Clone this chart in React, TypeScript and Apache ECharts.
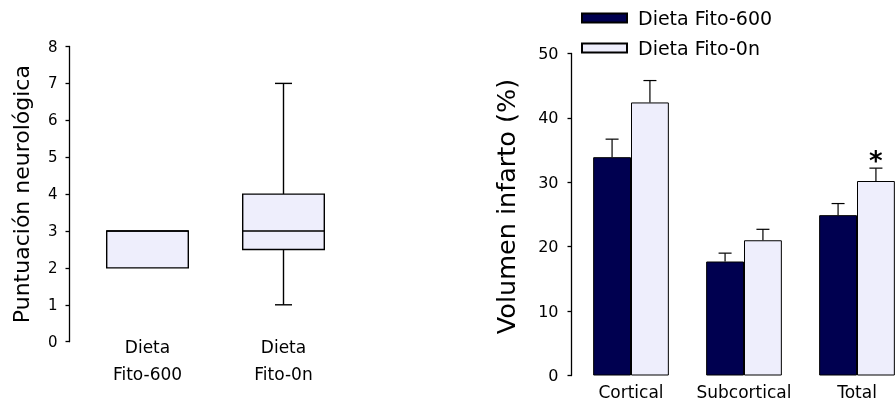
import React, { useEffect, useRef } from "react";
import * as echarts from "echarts";

// ---- Left chart: neurological score box plot ----
const boxCategories = ["Dieta\nFito-600", "Dieta\nFito-0n"];
const boxMin = [2, 1];
const boxQ1 = [2, 2.5];
const boxMedian = [3, 3];
const boxQ3 = [3, 4];
const boxMax = [3, 7];

// ---- Right chart: infarct volume bars ----
const barCategories = ["Cortical", "Subcortical", "Total"];
const seriesNames = ["Dieta Fito-600", "Dieta Fito-0n"];
const fito600 = [33.9, 17.7, 24.9];
const fito600Err = [36.7, 19.0, 26.7];
const fito0n = [42.4, 21.0, 30.2];
const fito0nErr = [45.8, 22.7, 32.2];
const fito0nSig = ["", "", "*"];

const FONT = "'DejaVu Sans', sans-serif";
const DARK = "#000050";
const LIGHT = "#eeeefc";
const BAR_CAT_GAP = 0.33;

export default function App() {
  const ref = useRef<HTMLDivElement>(null);

  useEffect(() => {
    if (!ref.current) return;
    const chart = echarts.init(ref.current, null, { renderer: "svg" });

    const boxData = boxCategories.map((_, i) => [i, boxMin[i], boxQ1[i], boxMedian[i], boxQ3[i], boxMax[i]]);
    const err600 = barCategories.map((_, i) => [i, fito600Err[i], fito600[i]]);
    const err0n = barCategories.map((_, i) => [i, fito0nErr[i], fito0n[i]]);

    const makeErr = (side: number, sig?: string[]) => (params: any, api: any) => {
      const idx = api.value(0);
      const band = api.size([1, 0])[0];
      const barW = (band * (1 - BAR_CAT_GAP)) / 2;
      const top = api.coord([idx, api.value(1)]);
      const base = api.coord([idx, api.value(2)]);
      const x = top[0] + side * barW / 2;
      const cap = 13;
      const children: any[] = [
        { type: "line", shape: { x1: x, y1: base[1], x2: x, y2: top[1] }, style: { stroke: "#000", lineWidth: 1.2 } },
        { type: "line", shape: { x1: x - cap / 2, y1: top[1], x2: x + cap / 2, y2: top[1] }, style: { stroke: "#000", lineWidth: 1.2 } },
      ];
      const s = sig ? sig[params.dataIndex] : "";
      if (s) {
        children.push({
          type: "text",
          style: {
            text: s, x, y: top[1] + 6, textAlign: "center", textVerticalAlign: "bottom",
            fontSize: 26, fontWeight: "bold", fontFamily: FONT, fill: "#000",
          },
        });
      }
      return { type: "group", children };
    };

    chart.setOption({
      animation: false,
      textStyle: { fontFamily: FONT, color: "#000" },
      legend: {
        data: seriesNames,
        orient: "vertical",
        left: 581,
        top: 8,
        padding: 0,
        itemWidth: 45,
        itemHeight: 9,
        itemGap: 10,
        icon: "rect",
        selectedMode: false,
        textStyle: { fontSize: 19, lineHeight: 20, color: "#000", fontFamily: FONT, padding: [0, 0, 0, 6] },
      },
      grid: [
        { left: 79.5, top: 46.5, width: 272, height: 295.2, outerBoundsMode: "none" },
        { left: 574.5, top: 53.5, width: 339, height: 322, outerBoundsMode: "none" },
      ],
      xAxis: [
        {
          type: "category", gridIndex: 0, data: boxCategories,
          axisLine: { show: false }, axisTick: { show: false },
          axisLabel: { fontSize: 17, lineHeight: 27, margin: -8, color: "#000" },
        },
        {
          type: "category", gridIndex: 1, data: barCategories,
          axisLine: { show: false }, axisTick: { show: false },
          axisLabel: { fontSize: 17, margin: 8, color: "#000", interval: 0 },
        },
      ],
      yAxis: [
        {
          type: "value", gridIndex: 0, min: 0, max: 8, interval: 1, offset: 10,
          name: "Puntuación neurológica", nameLocation: "middle", nameGap: 37,
          nameTextStyle: { fontSize: 22, color: "#000" },
          axisLine: { show: true, lineStyle: { color: "#000", width: 1.3 } },
          axisTick: { show: true, length: 4, lineStyle: { color: "#000", width: 1.3 } },
          axisLabel: { fontSize: 15, margin: 12, color: "#000" },
          splitLine: { show: false },
        },
        {
          type: "value", gridIndex: 1, min: 0, max: 50, interval: 10, offset: 3,
          name: "Volumen infarto (%)", nameLocation: "middle", nameGap: 53,
          nameTextStyle: { fontSize: 25.5, color: "#000", padding: [0, 0, 0, 16] },
          axisLine: { show: true, lineStyle: { color: "#000", width: 1.3 } },
          axisTick: { show: true, length: 4, lineStyle: { color: "#000", width: 1.3 } },
          axisLabel: { fontSize: 16, margin: 13, color: "#000" },
          splitLine: { show: false },
        },
      ],
      series: [
        {
          type: "custom", name: "box", xAxisIndex: 0, yAxisIndex: 0,
          data: boxData, encode: { x: 0, y: [1, 2, 3, 4, 5] },
          renderItem: (params: any, api: any) => {
            const idx = api.value(0);
            const band = api.size([1, 0])[0];
            const w = band * 0.6;
            const cx = api.coord([idx, 0])[0];
            const yMin = api.coord([idx, api.value(1)])[1];
            const yQ1 = api.coord([idx, api.value(2)])[1];
            const yMed = api.coord([idx, api.value(3)])[1];
            const yQ3 = api.coord([idx, api.value(4)])[1];
            const yMax = api.coord([idx, api.value(5)])[1];
            const cap = 17;
            const ls = { stroke: "#000", lineWidth: 1.4 };
            const children: any[] = [];
            if (api.value(5) > api.value(4)) {
              children.push({ type: "line", shape: { x1: cx, y1: yQ3, x2: cx, y2: yMax }, style: ls });
              children.push({ type: "line", shape: { x1: cx - cap / 2, y1: yMax, x2: cx + cap / 2, y2: yMax }, style: ls });
            }
            if (api.value(1) < api.value(2)) {
              children.push({ type: "line", shape: { x1: cx, y1: yQ1, x2: cx, y2: yMin }, style: ls });
              children.push({ type: "line", shape: { x1: cx - cap / 2, y1: yMin, x2: cx + cap / 2, y2: yMin }, style: ls });
            }
            children.push({
              type: "rect", shape: { x: cx - w / 2, y: yQ3, width: w, height: yQ1 - yQ3 },
              style: { fill: LIGHT, stroke: "#000", lineWidth: 1.4 },
            });
            children.push({ type: "line", shape: { x1: cx - w / 2, y1: yMed, x2: cx + w / 2, y2: yMed }, style: ls });
            return { type: "group", children };
          },
        },
        {
          type: "bar", name: seriesNames[0], xAxisIndex: 1, yAxisIndex: 1, data: fito600,
          barGap: "0%", barCategoryGap: `${BAR_CAT_GAP * 100}%`,
          itemStyle: { color: DARK, borderColor: "#000", borderWidth: 1 },
        },
        {
          type: "bar", name: seriesNames[1], xAxisIndex: 1, yAxisIndex: 1, data: fito0n,
          barGap: "0%", barCategoryGap: `${BAR_CAT_GAP * 100}%`,
          itemStyle: { color: LIGHT, borderColor: "#000", borderWidth: 1 },
        },
        {
          type: "custom", name: "err600", xAxisIndex: 1, yAxisIndex: 1, z: 3,
          data: err600, encode: { x: 0, y: [1, 2] }, renderItem: makeErr(-1),
        },
        {
          type: "custom", name: "err0n", xAxisIndex: 1, yAxisIndex: 1, z: 3,
          data: err0n, encode: { x: 0, y: [1, 2] }, renderItem: makeErr(1, fito0nSig),
        },
      ],
    });

    return () => chart.dispose();
  }, []);

  return <div ref={ref} style={{ position: "fixed", left: 0, top: 0, width: 896, height: 402 }} />;
}
